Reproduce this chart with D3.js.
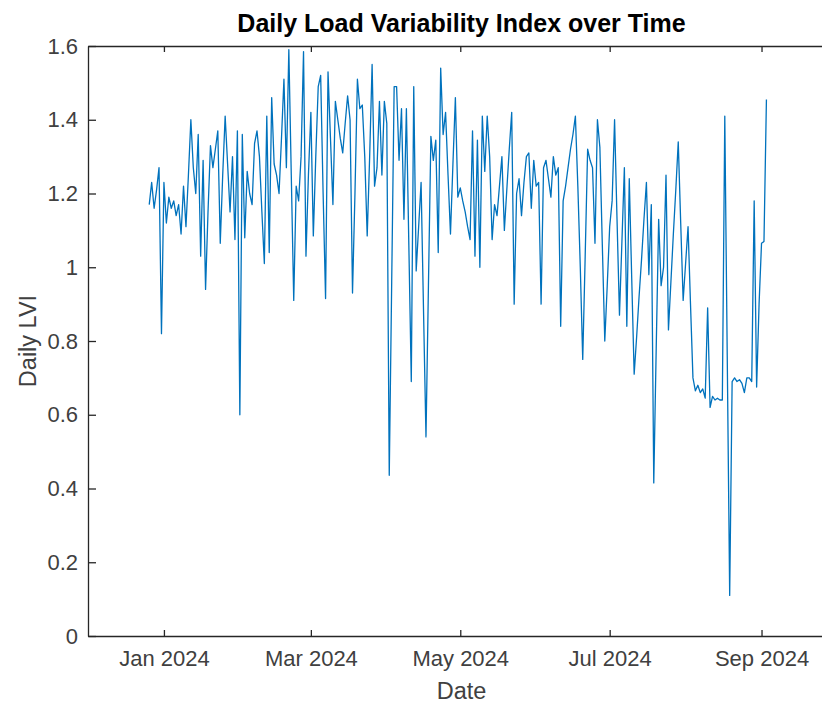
<!DOCTYPE html>
<html>
<head>
<meta charset="utf-8">
<script src="https://cdnjs.cloudflare.com/ajax/libs/d3/7.8.5/d3.min.js"></script>
<style>
  body { margin: 0; background: #ffffff; }
  svg { display: block; font-family: "Liberation Sans", Arial, sans-serif; }
</style>
</head>
<body>
<script>
// first day of the series, one value per day after that
let startDay = new Date(2023, 11, 26)

// daily LVI, split by month
let lviDec = [1.17, 1.23, 1.16, 1.21, 1.27, 0.82]
let lviJan = [1.23, 1.12, 1.19, 1.16, 1.18, 1.14, 1.17, 1.09, 1.22, 1.11, 1.25, 1.40, 1.27, 1.20, 1.36, 1.03,
              1.29, 0.94, 1.15, 1.33, 1.27, 1.32, 1.37, 1.065, 1.25, 1.41, 1.28, 1.15, 1.30, 1.075, 1.37]
let lviFeb = [0.60, 1.36, 1.08, 1.26, 1.20, 1.17, 1.335, 1.37, 1.30, 1.15, 1.01, 1.41, 1.04, 1.46, 1.28,
              1.25, 1.20, 1.35, 1.51, 1.27, 1.59, 1.25, 0.91, 1.22, 1.18, 1.30, 1.585, 1.03, 1.25]
let lviMar = [1.42, 1.085, 1.30, 1.49, 1.52, 1.20, 0.915, 1.53, 1.35, 1.17, 1.45, 1.40, 1.35, 1.31, 1.39,
              1.465, 1.40, 0.93, 1.20, 1.51, 1.43, 1.44, 1.30, 1.085, 1.30, 1.55, 1.22, 1.27, 1.45, 1.25, 1.45]
let lviApr = [1.39, 0.436, 0.96, 1.49, 1.49, 1.29, 1.43, 1.13, 1.43, 1.06, 0.69, 1.49, 0.99, 1.11, 1.23,
              0.88, 0.54, 0.95, 1.355, 1.29, 1.345, 1.04, 1.54, 1.36, 1.42, 1.25, 1.09, 1.28, 1.46, 1.19]
let lviMay = [1.215, 1.18, 1.15, 1.11, 1.075, 1.37, 1.03, 1.345, 1.00, 1.41, 1.26, 1.41, 1.30, 1.075, 1.17,
              1.14, 1.22, 1.30, 1.10, 1.21, 1.32, 1.42, 0.90, 1.20, 1.24, 1.14, 1.23, 1.30, 1.31, 1.16, 1.29]
let lviJun = [1.22, 1.23, 0.90, 1.27, 1.29, 1.24, 1.19, 1.30, 1.25, 1.27, 0.84, 1.18, 1.22, 1.27, 1.32,
              1.36, 1.41, 1.22, 1.00, 0.75, 1.03, 1.32, 1.29, 1.27, 1.065, 1.40, 1.325, 1.06, 0.80, 0.95]
let lviJul = [1.11, 1.18, 1.40, 1.13, 0.87, 1.07, 1.27, 0.84, 1.24, 0.97, 0.71, 0.81, 0.92, 1.02, 1.13,
              1.23, 0.98, 1.17, 0.415, 0.78, 1.13, 0.95, 1.00, 1.25, 0.83, 0.96, 1.09, 1.21, 1.34, 1.12, 0.91]
let lviAug = [1.01, 1.11, 0.90, 0.70, 0.665, 0.68, 0.66, 0.67, 0.645, 0.89, 0.62, 0.65, 0.64, 0.645, 0.64,
              0.64, 1.41, 0.76, 0.11, 0.69, 0.70, 0.69, 0.695, 0.685, 0.66, 0.70, 0.70, 0.69, 1.18, 0.675, 0.90]
let lviSep = [1.065, 1.07, 1.455]

// axis ticks
let xTickDates = [new Date(2024, 0, 1), new Date(2024, 2, 1), new Date(2024, 4, 1), new Date(2024, 6, 1), new Date(2024, 8, 1)]
let xTickLabels = ['Jan 2024', 'Mar 2024', 'May 2024', 'Jul 2024', 'Sep 2024']
let yTicks = [0, 0.2, 0.4, 0.6, 0.8, 1, 1.2, 1.4, 1.6]

let width = 822
let height = 706
let padLeft = 88
let padRight = 835   // right edge of the box sits just outside the window
let padTop = 46
let padBottom = 636

let values = [].concat(lviDec, lviJan, lviFeb, lviMar, lviApr, lviMay, lviJun, lviJul, lviAug, lviSep)
let points = values.map((v, i) => [d3.timeDay.offset(startDay, i), v])

let svg = d3.select('body').append('svg')
            .attr('width', width)
            .attr('height', height)

let xScale = d3.scaleTime()
               .domain([new Date(2023, 11, 1), new Date(2024, 9, 1)])
               .range([padLeft, padRight])

let yScale = d3.scaleLinear()
               .domain([0, 1.6])
               .range([padBottom, padTop])

// the data line
let line = d3.line()
             .x((d) => xScale(d[0]))
             .y((d) => yScale(d[1]))

svg.append('path')
   .datum(points)
   .attr('d', line)
   .attr('fill', 'none')
   .attr('stroke', '#0072BD')
   .attr('stroke-width', 1.3)
   .attr('stroke-linejoin', 'round')

// axes, ticks point into the box like matlab
let axisColor = '#262626'

let xAxis = d3.axisBottom(xScale)
              .tickValues(xTickDates)
              .tickFormat((d, i) => xTickLabels[i])
              .tickSizeInner(-6)
              .tickSizeOuter(0)
              .tickPadding(14)

let xTop = d3.axisTop(xScale)
             .tickValues(xTickDates)
             .tickFormat('')
             .tickSizeInner(-6)
             .tickSizeOuter(0)

let yAxis = d3.axisLeft(yScale)
              .tickValues(yTicks)
              .tickFormat(d3.format('~g'))
              .tickSizeInner(-8)
              .tickSizeOuter(0)
              .tickPadding(10)

let yRight = d3.axisRight(yScale)
               .tickValues(yTicks)
               .tickFormat('')
               .tickSizeInner(-8)
               .tickSizeOuter(0)

let gx = svg.append('g').attr('transform', 'translate(0,' + padBottom + ')').call(xAxis)
let gt = svg.append('g').attr('transform', 'translate(0,' + padTop + ')').call(xTop)
let gy = svg.append('g').attr('transform', 'translate(' + padLeft + ',0)').call(yAxis)
let gr = svg.append('g').attr('transform', 'translate(' + padRight + ',0)').call(yRight)

;[gx, gt, gy, gr].forEach((g) => {
    g.select('.domain').attr('stroke', axisColor).attr('stroke-width', 1.3)
    g.selectAll('.tick line').attr('stroke', axisColor).attr('stroke-width', 1.3)
    g.selectAll('.tick text')
     .attr('fill', '#404040')
     .style('font-size', '22px')
     .style('font-family', '"Liberation Sans", Arial, sans-serif')
})

// title and labels
svg.append('text')
   .attr('x', (padLeft + padRight) / 2)
   .attr('y', 32)
   .attr('text-anchor', 'middle')
   .attr('font-weight', 'bold')
   .attr('font-size', 25)
   .attr('fill', '#000')
   .text('Daily Load Variability Index over Time')

svg.append('text')
   .attr('x', (padLeft + padRight) / 2)
   .attr('y', 699)
   .attr('text-anchor', 'middle')
   .attr('font-size', 23.5)
   .attr('fill', '#404040')
   .text('Date')

svg.append('text')
   .attr('transform', 'translate(36,' + (padTop + padBottom) / 2 + ') rotate(-90)')
   .attr('text-anchor', 'middle')
   .attr('font-size', 23.5)
   .attr('fill', '#404040')
   .text('Daily LVI')
</script>
</body>
</html>
